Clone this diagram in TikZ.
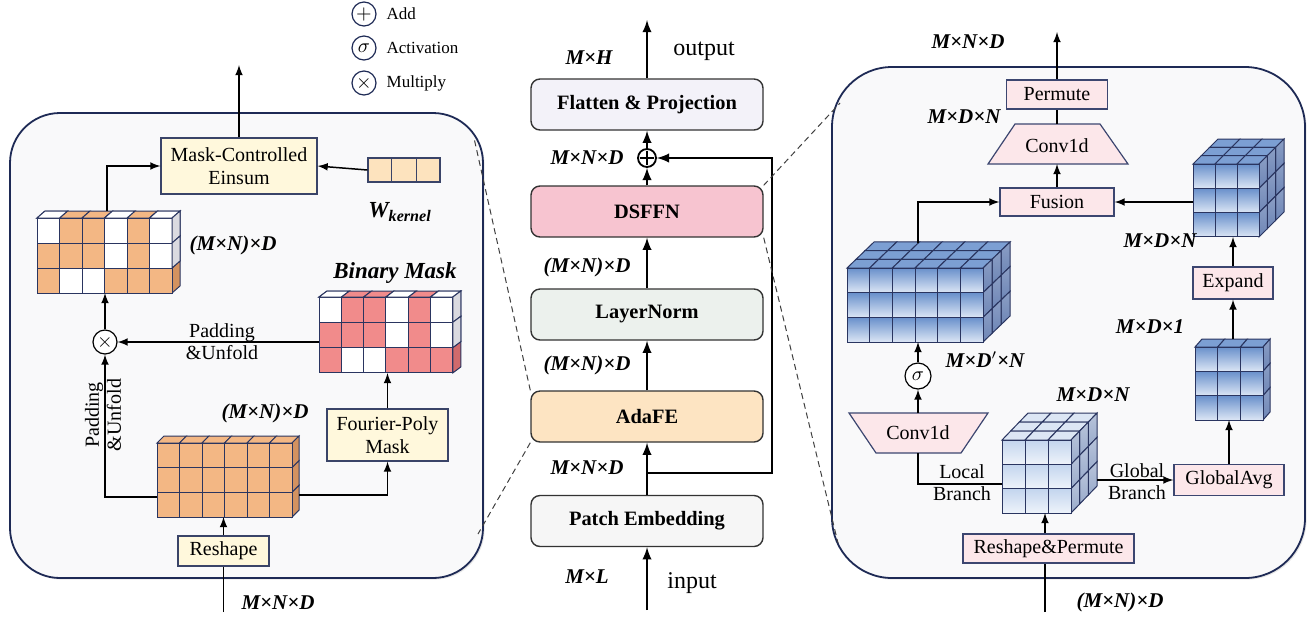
\documentclass[tikz,border=0pt]{standalone}
\usepackage{fontspec}
\setmainfont{Liberation Serif}
\usetikzlibrary{calc, positioning, arrows.meta, shadows}
\tikzset{>=latex}

\definecolor{panelline}{HTML}{1E2A55}
\definecolor{panelfill}{HTML}{F9F9FA}
\definecolor{boxline}{HTML}{3A4468}
\definecolor{creamfill}{HTML}{FFF8DC}
\definecolor{kernelfill}{HTML}{FDE3BE}
\definecolor{orangecell}{HTML}{F3B784}
\definecolor{orangeside}{HTML}{D39260}
\definecolor{pinkcell}{HTML}{F18B8B}
\definecolor{pinkside}{HTML}{D06A6C}
\definecolor{sidewhite}{HTML}{DADAE0}
\definecolor{cellline}{HTML}{2A3560}
\definecolor{midline}{HTML}{333333}
\definecolor{flatfill}{HTML}{F3F2F9}
\definecolor{dsffnfill}{HTML}{F7C4D0}
\definecolor{normfill}{HTML}{ECF1ED}
\definecolor{adafefill}{HTML}{FDE4C2}
\definecolor{patchfill}{HTML}{F6F6F6}
\definecolor{rboxfill}{HTML}{FCE7EA}
\definecolor{rboxline}{HTML}{3C4670}
\definecolor{bluetop}{HTML}{6990CB}
\definecolor{bluebot}{HTML}{DCE6F5}
\definecolor{bluelid}{HTML}{7C9FD3}
\definecolor{blueside}{HTML}{6E86B6}
\definecolor{paletop}{HTML}{C3D5EE}
\definecolor{palebot}{HTML}{EEF3FA}
\definecolor{palelid}{HTML}{DCE6F4}
\definecolor{paleside}{HTML}{9AABCB}

% block of cells: x0, y0 (front top left), cols, rows, depth, cell w, cell h, depth dx, depth dy
\newcommand{\drawblock}[9]{%
  \foreach \k in {#5,...,1}{%
    \foreach \i in {1,...,#3}{%
      \path[blocktop] ({#1+(\i-1)*#6+(\k-1)*#8},{#2-(\k-1)*#9}) -- ++(#6,0) -- ++(#8,-#9) -- ++(-#6,0) -- cycle;}}
  \foreach \k in {#5,...,1}{%
    \foreach \j in {1,...,#4}{%
      \path[blockside] ({#1+#3*#6+(\k-1)*#8},{#2+(\j-1)*#7-(\k-1)*#9}) -- ++(#8,-#9) -- ++(0,#7) -- ++(-#8,#9) -- cycle;}}
  \foreach \i in {1,...,#3}{%
    \foreach \j in {1,...,#4}{%
      \path[blockfront] ({#1+(\i-1)*#6},{#2+(\j-1)*#7}) rectangle ++(#6,#7);}}
}
\newcommand{\maskcells}{1/1,4/1,6/1,4/2,6/2,2/3,3/3}
% white cells of the mask pattern: x0, y0, w, h, dx, dy
\newcommand{\maskover}[6]{%
  \foreach \i/\j in \maskcells
    \path[blockfront, fill=white] ({#1+(\i-1)*#3},{#2+(\j-1)*#4}) rectangle ++(#3,#4);
  \foreach \i in {1,4,6}
    \path[blocktop, fill=white] ({#1+(\i-1)*#3},#2) -- ++(#3,0) -- ++(#5,-#6) -- ++(-#3,0) -- cycle;
  \foreach \j in {1,2}
    \path[blockside, fill=sidewhite] ({#1+6*#3},{#2+(\j-1)*#4}) -- ++(#5,-#6) -- ++(0,#4) -- ++(-#5,#6) -- cycle;
}

\tikzset{
  panel/.style={draw=panelline, line width=0.9pt, fill=panelfill, rounded corners=25pt,
    drop shadow={opacity=0.2, shadow xshift=0.8pt, shadow yshift=-0.8pt}},
  mbox/.style={draw=midline, line width=0.7pt, rounded corners=4.5pt, minimum width=116pt,
    minimum height=25.5pt, inner sep=0pt, font=\fontsize{10.2}{12}\selectfont\bfseries},
  cbox/.style={draw=boxline, fill=creamfill, line width=0.6pt, inner sep=0pt, align=center,
    font=\fontsize{10}{11.5}\selectfont},
  rbox/.style={draw=rboxline, fill=rboxfill, line width=0.6pt, inner sep=0pt,
    font=\fontsize{10}{11.5}\selectfont},
  convshape/.style={draw=rboxline, fill=rboxfill, line width=0.6pt},
  convtxt/.style={inner sep=0pt, font=\fontsize{10}{11.5}\selectfont},
  opcirc/.style={circle, draw, line width=0.6pt, fill=white, inner sep=0pt, minimum size=12pt},
  dimtxt/.style={font=\fontsize{10.5}{12}\selectfont\bfseries\itshape},
  ptxt/.style={font=\fontsize{10}{11}\selectfont, align=center},
  legtxt/.style={font=\fontsize{8.5}{10}\selectfont},
  iotxt/.style={font=\fontsize{12}{14}\selectfont},
  marrow/.style={->, line width=1.1pt},
  parrow/.style={->, line width=0.75pt},
  pline/.style={line width=0.75pt},
  zoomline/.style={densely dashed, line width=0.5pt, draw=black!75},
  orangeblock/.style={
    blockfront/.style={fill=orangecell, draw=cellline, line width=0.5pt},
    blocktop/.style={fill=orangecell, draw=cellline, line width=0.5pt},
    blockside/.style={fill=orangeside, draw=cellline, line width=0.5pt}},
  pinkblock/.style={
    blockfront/.style={fill=pinkcell, draw=cellline, line width=0.5pt},
    blocktop/.style={fill=pinkcell, draw=cellline, line width=0.5pt},
    blockside/.style={fill=pinkside, draw=cellline, line width=0.5pt}},
  blueblock/.style={
    blockfront/.style={top color=bluetop, bottom color=bluebot, draw=cellline, line width=0.5pt},
    blocktop/.style={fill=bluelid, draw=cellline, line width=0.5pt},
    blockside/.style={top color=blueside!80, bottom color=blueside, draw=cellline, line width=0.5pt}},
  paleblock/.style={
    blockfront/.style={top color=paletop, bottom color=palebot, draw=cellline, line width=0.5pt},
    blocktop/.style={fill=palelid, draw=cellline, line width=0.5pt},
    blockside/.style={top color=paleside!70, bottom color=paleside, draw=cellline, line width=0.5pt}}
}

\begin{document}
\begin{tikzpicture}[x=0.5pt, y=-0.5pt]
\useasboundingbox (0,0) rectangle (1315,622);

% panels
\path[panel] (10,113) rectangle (483,578);
\path[panel, rounded corners=30pt] (832,67) rectangle (1305,578);

% legend
\node[opcirc, draw=panelline] (lgadd) at (364,14) {$+$};
\node[opcirc, draw=panelline] (lgact) at (364,48) {$\sigma$};
\node[opcirc, draw=panelline] (lgmul) at (364,83) {$\times$};
\node[legtxt, right=1.5pt of lgadd] (lgaddtxt) {Add};
\node[legtxt, right=1.5pt of lgact] (lgacttxt) {Activation};
\node[legtxt, right=1.5pt of lgmul] (lgmultxt) {Multiply};

% ---------------- left: AdaFE
\node[cbox, minimum width=78pt, minimum height=28pt] (mce) at (239,166) {Mask-Controlled\\Einsum};
\node[cbox, minimum width=60.5pt, minimum height=26pt] (fpm) at (387.5,435) {Fourier-Poly\\Mask};
\node[cbox, minimum width=45.5pt, minimum height=15pt] (rsh) at (223.5,551) {Reshape};
\node[draw=boxline, fill=kernelfill, line width=0.6pt, minimum width=36pt, minimum height=12pt,
  inner sep=0pt] (wk) at (404,170) {};
\draw[boxline, line width=0.6pt] ($(wk.north west)!1/3!(wk.north east)$) -- ($(wk.south west)!1/3!(wk.south east)$)
  ($(wk.north west)!2/3!(wk.north east)$) -- ($(wk.south west)!2/3!(wk.south east)$);
\node[dimtxt, font=\fontsize{11.5}{13}\selectfont\bfseries\itshape] (wklab) at (400,212) {W\textsubscript{kernel}};
\node[opcirc] (mul) at (105,342) {$\times$};

\begin{scope}[orangeblock]
\drawblock{37}{218}{6}{3}{1}{22.5}{25}{8}{7}
\maskover{37}{218}{22.5}{25}{8}{7}
\drawblock{157}{443}{6}{3}{1}{22.5}{24.7}{7}{7}
\end{scope}
\begin{scope}[pinkblock]
\drawblock{319}{297}{6}{3}{1}{22.3}{25.3}{8}{6}
\maskover{319}{297}{22.3}{25.3}{8}{6}
\end{scope}

\coordinate (mtop) at (107,211);
\coordinate (mbot) at (105,293);
\coordinate (bmleft) at (319,342);
\coordinate (bmbot) at (387.5,373);
\coordinate (xleft) at (157,497);
\coordinate (xright) at (299,495);
\coordinate (xbot) at (223.5,517);
\coordinate (lin) at (223.5,612);
\coordinate (lout) at (239,65);

\draw[pline] (lin) -- (rsh.south);
\draw[parrow] (rsh.north) -- (xbot);
\draw[parrow] (xleft) -| (mul.south);
\draw[parrow] (xright) -| (fpm.south);
\draw[parrow] (fpm.north) -- (bmbot);
\draw[parrow] (bmleft) -- (mul.east);
\draw[parrow] (mul.north) -- (mbot);
\draw[parrow] (mtop) |- (mce.west);
\draw[parrow] (wk.west) -- (mce.east);
\draw[parrow] (mce.north) -- (lout);

\node[ptxt] (pu1) at (222,342) {Padding\\\&Unfold};
\node[ptxt, rotate=90] (pu2) at (103,415) {Padding\\\&Unfold};
\node[dimtxt] (ldim1) at (233,245) {(M×N)×D};
\node[dimtxt, font=\fontsize{11.5}{13}\selectfont\bfseries\itshape] (bmlab) at (395,273) {Binary Mask};
\node[dimtxt] (ldim2) at (265,413) {(M×N)×D};
\node[dimtxt] (ldim3) at (278,603) {M×N×D};

% ---------------- middle
\node[mbox, fill=flatfill] (flat) at (647,104.5) {Flatten \& Projection};
\node[mbox, fill=dsffnfill] (dsffn) at (647,211.5) {DSFFN};
\node[mbox, fill=normfill] (lnorm) at (647,314.5) {LayerNorm};
\node[mbox, fill=adafefill] (adafe) at (647,416.5) {AdaFE};
\node[mbox, fill=patchfill] (patch) at (647,521) {Patch Embedding};
\node[opcirc, line width=0.9pt, minimum size=9pt] (add) at (647,158) {};
\draw[line width=0.6pt] ([yshift=-1.3pt]add.north) -- ([yshift=1.3pt]add.south)
  ([xshift=1.3pt]add.west) -- ([xshift=-1.3pt]add.east);

\coordinate (minput) at (647,610);
\coordinate (moutput) at (647,20);
\coordinate (res) at (647,473);
\coordinate (resr) at (772,473);

\draw[marrow] (minput) -- (patch.south);
\draw[marrow] (patch.north) -- (adafe.south);
\draw[marrow] (res) -- (resr) |- (add.east);
\draw[marrow] (adafe.north) -- (lnorm.south);
\draw[marrow] (lnorm.north) -- (dsffn.south);
\draw[marrow] (dsffn.north) -- (add.south);
\draw[marrow] (add.north) -- (flat.south);
\draw[marrow] (flat.north) -- (moutput);

\node[dimtxt] (mdim1) at (589,58) {M×H};
\node[iotxt] (outlab) at (704,51) {output};
\node[dimtxt] (mdim2) at (587,158) {M×N×D};
\node[dimtxt] (mdim3) at (587,267) {(M×N)×D};
\node[dimtxt] (mdim4) at (587,365) {(M×N)×D};
\node[dimtxt] (mdim5) at (587,468) {M×N×D};
\node[dimtxt] (mdim6) at (587,577) {M×L};
\node[iotxt] (inlab) at (692,583) {input};

% ---------------- right: DSFFN
\node[rbox, minimum width=50.5pt, minimum height=14.5pt] (perm) at (1057,94.5) {Permute};
\path[convshape] (988,164) -- (1015,124) -- (1100,124) -- (1128,164) -- cycle;
\node[convtxt] (conva) at (1057,146) {Conv1d};
\node[rbox, minimum width=57pt, minimum height=14pt] (fus) at (1057,202) {Fusion};
\node[rbox, minimum width=40pt, minimum height=16pt] (expd) at (1233,283) {Expand};
\node[rbox, minimum width=55pt, minimum height=15.5pt] (gavg) at (1229,480) {GlobalAvg};
\node[rbox, minimum width=85.5pt, minimum height=14.5pt] (rsp) at (1048.5,548.5) {Reshape\&Permute};
\path[convshape] (849,413) -- (988,413) -- (961,453) -- (876,453) -- cycle;
\node[convtxt] (convb) at (918,433) {Conv1d};
\node[opcirc, minimum size=13pt] (sig) at (918,376) {$\sigma$};

\begin{scope}[blueblock]
\drawblock{847}{268}{6}{3}{3}{22.67}{24.67}{9}{8.67}
\drawblock{1193}{164}{3}{3}{3}{22}{24.33}{8.33}{8.33}
\drawblock{1195}{347}{3}{3}{1}{22.67}{24.33}{7}{8}
\end{scope}
\begin{scope}[paleblock]
\drawblock{1002}{440}{3}{3}{3}{23}{24.33}{8.67}{9}
\end{scope}

\coordinate (convatop) at (1057,124);
\coordinate (convabot) at (1057,164);
\coordinate (convbtop) at (918,413);
\coordinate (convbbot) at (918,453);
\coordinate (bigtop) at (918,243);
\coordinate (bigbot) at (918,342);
\coordinate (ctrleft) at (1002,484);
\coordinate (ctrright) at (1097,480);
\coordinate (ctrbot) at (1045,513);
\coordinate (trleft) at (1193,202);
\coordinate (trbot) at (1233,237);
\coordinate (smtop) at (1233,339);
\coordinate (smbot) at (1229,420);
\coordinate (rin) at (1045,612);
\coordinate (rout) at (1057,32);

\draw[pline] (rin) -- (rin |- rsp.south);
\draw[parrow] (rin |- rsp.north) -- (ctrbot);
\draw[pline] (ctrleft) -| (convbbot);
\draw[parrow] (ctrright) -- (gavg.west);
\draw[parrow] (convbtop) -- (sig.south);
\draw[parrow] (sig.north) -- (bigbot);
\draw[parrow] (bigtop) |- (fus.west);
\draw[parrow] (trleft) -- (fus.east);
\draw[parrow] (fus.north) -- (convabot);
\draw[pline] (convatop) -- (perm.south);
\draw[parrow] (perm.north) -- (rout);
\draw[parrow] (gavg.north) -- (smbot);
\draw[parrow] (smtop) -- (expd.south);
\draw[parrow] (expd.north) -- (trbot);

\node[ptxt] (lbr) at (962,483) {Local\\Branch};
\node[ptxt] (gbr) at (1137,482) {Global\\Branch};
\node[dimtxt] (rdim1) at (968,42) {M×N×D};
\node[dimtxt] (rdim2) at (964,117) {M×D×N};
\node[dimtxt] (rdim3) at (1160,241) {M×D×N};
\node[dimtxt] (rdim4) at (1150,327) {M×D×1};
\node[dimtxt] (rdim5) at (985,360) {M×D$'$×N};
\node[dimtxt] (rdim6) at (1093,395) {M×D×N};
\node[dimtxt] (rdim7) at (1120,602) {(M×N)×D};

% zoom lines
\coordinate (zl1) at (474,138);
\coordinate (zl2) at (478,534);
\coordinate (zr1) at (840,103);
\coordinate (zr2) at (838,543);
\draw[zoomline] (adafe.north west) -- (zl1);
\draw[zoomline] (adafe.south west) -- (zl2);
\draw[zoomline] (dsffn.north east) -- (zr1);
\draw[zoomline] (dsffn.south east) -- (zr2);
\end{tikzpicture}
\end{document}
